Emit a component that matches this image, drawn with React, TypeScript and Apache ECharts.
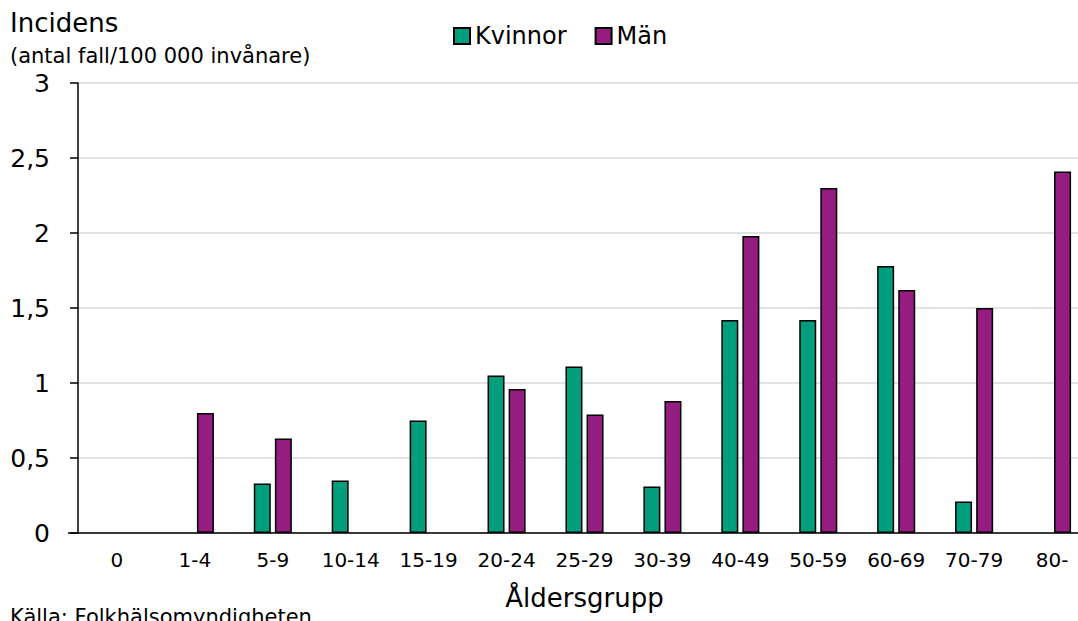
import React, { useEffect, useRef } from "react";
import * as echarts from "echarts";

const categories = ["0", "1-4", "5-9", "10-14", "15-19", "20-24", "25-29", "30-39", "40-49", "50-59", "60-69", "70-79", "80-"];
const kvinnor = [0, 0, 0.33, 0.35, 0.75, 1.05, 1.11, 0.31, 1.42, 1.42, 1.78, 0.21, 0];
const man = [0, 0.8, 0.63, 0, 0, 0.96, 0.79, 0.88, 1.98, 2.3, 1.62, 1.5, 2.41];
const yTicks = [0, 0.5, 1, 1.5, 2, 2.5, 3];

const FONT = "DejaVu Sans";
const hideZero = (arr: number[]) => arr.map((v) => (v === 0 ? "-" : v));

export default function App() {
  const ref = useRef<HTMLDivElement>(null);
  useEffect(() => {
    const chart = echarts.init(ref.current!, null, { renderer: "svg" });
    chart.setOption({
      animation: false,
      backgroundColor: "#ffffff",
      textStyle: { fontFamily: FONT, color: "#000" },
      legend: {
        top: 19,
        left: 448,
        icon: "rect",
        itemWidth: 16,
        itemHeight: 16,
        itemGap: 28,
        textStyle: { fontFamily: FONT, fontSize: 24, color: "#000" },
        data: ["Kvinnor", "Män"],
      },
      grid: { left: 78, top: 83, width: 1013, height: 450, containLabel: false, outerBoundsMode: "none" },
      xAxis: {
        type: "category",
        data: categories,
        axisLine: { lineStyle: { color: "#000", width: 1.5 } },
        axisTick: { show: false },
        axisLabel: { fontFamily: FONT, fontSize: 20, color: "#000", margin: 17, interval: 0, hideOverlap: false },
        name: "Åldersgrupp",
        nameLocation: "middle",
        nameGap: 52,
        nameTextStyle: { fontFamily: FONT, fontSize: 26, color: "#000", verticalAlign: "top" },
      },
      yAxis: {
        type: "value",
        min: yTicks[0],
        max: yTicks[yTicks.length - 1],
        interval: 0.5,
        axisLine: { show: true, lineStyle: { color: "#000", width: 1.5 } },
        axisTick: { show: true, length: 8, lineStyle: { color: "#000", width: 1.5 } },
        axisLabel: {
          fontFamily: FONT,
          fontSize: 25,
          color: "#000",
          margin: 28,
          formatter: (v: number) => String(v).replace(".", ","),
        },
        splitLine: { lineStyle: { color: "#d9d9d9", width: 1.5 } },
      },
      series: [
        {
          name: "Kvinnor",
          type: "bar",
          data: hideZero(kvinnor),
          barWidth: 17,
          barGap: "24%",
          itemStyle: { color: "#009e7d", borderColor: "#000", borderWidth: 1.5 },
        },
        {
          name: "Män",
          type: "bar",
          data: hideZero(man),
          barWidth: 17,
          itemStyle: { color: "#951c80", borderColor: "#000", borderWidth: 1.5 },
        },
      ],
      graphic: [
        { type: "text", left: 10, top: 10, style: { text: "Incidens", font: `26px '${FONT}'`, fill: "#000" } },
        { type: "text", left: 10, top: 45, style: { text: "(antal fall/100 000 invånare)", font: `21px '${FONT}'`, fill: "#000" } },
        { type: "text", left: 10, top: 606, style: { text: "Källa: Folkhälsomyndigheten", font: `21px '${FONT}'`, fill: "#000" } },
        { type: "line", shape: { x1: 68, y1: 533, x2: 78, y2: 533 }, style: { stroke: "#000", lineWidth: 1.5 } },
      ],
    });
    return () => chart.dispose();
  }, []);
  return (
    <div
      ref={ref}
      style={{ position: "absolute", left: 0, top: 0, width: 1078, height: 621, background: "#fff" }}
    />
  );
}
